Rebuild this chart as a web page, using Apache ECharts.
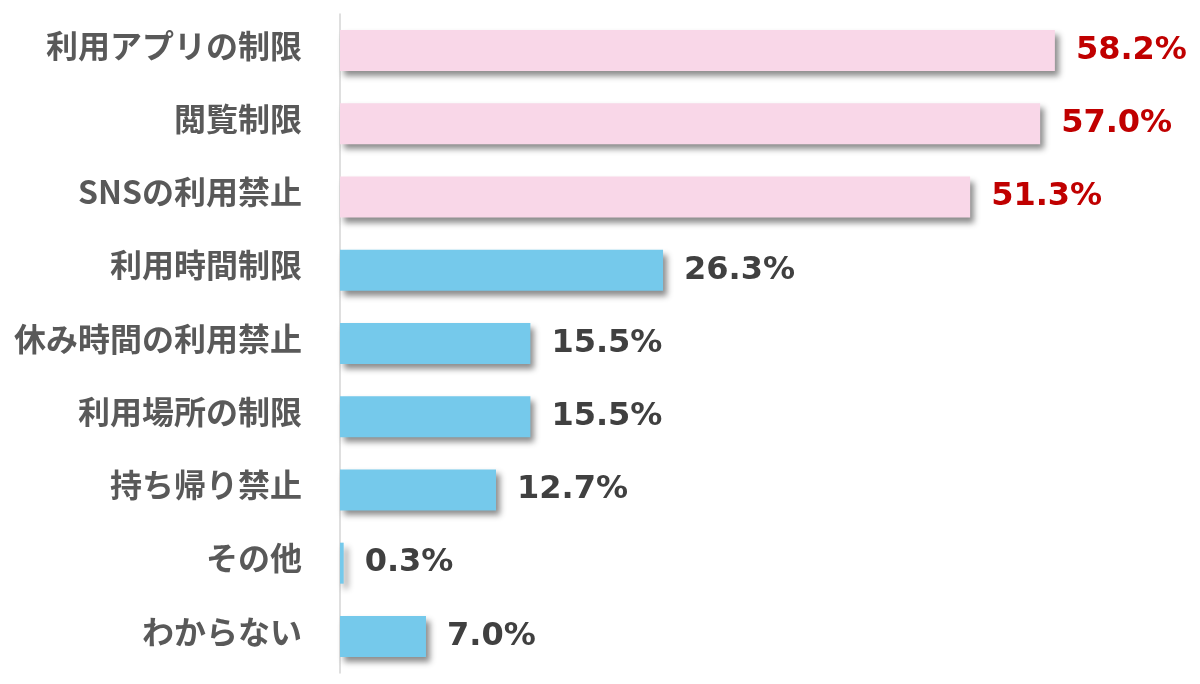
<!DOCTYPE html>
<html>
<head>
<meta charset="utf-8">
<script src="https://cdn.jsdelivr.net/npm/echarts@6/dist/echarts.min.js"></script>
<style>html,body{margin:0;padding:0;background:#fff;}#c{width:1200px;height:684px;}</style>
</head>
<body>
<div id="c"></div>
<script>
const categories = ['利用アプリの制限','閲覧制限','SNSの利用禁止','利用時間制限','休み時間の利用禁止','利用場所の制限','持ち帰り禁止','その他','わからない'];
const values = [58.2, 57.0, 51.3, 26.3, 15.5, 15.5, 12.7, 0.3, 7.0];
const highlighted = ['利用アプリの制限','閲覧制限','SNSの利用禁止'];

const chart = echarts.init(document.getElementById('c'));
const data = values.map((v, i) => {
  const hi = highlighted.includes(categories[i]);
  return {
    value: v,
    itemStyle: { color: hi ? '#F9D7E8' : '#75C9EB' },
    label: { color: hi ? '#C00000' : '#404040' }
  };
});
const catFont = { fontSize: 32, fontWeight: 'bold', color: '#595959', fontFamily: '"Noto Sans CJK JP", sans-serif' };
chart.setOption({
  animation: false,
  grid: { left: 340, right: 123, top: 14, bottom: 11, containLabel: false },
  xAxis: { type: 'value', min: 0, max: 60, show: false, splitLine: { show: false } },
  yAxis: {
    type: 'category', data: categories, inverse: true,
    axisLine: { show: true, lineStyle: { color: '#d4d4d4', width: 1.5 } },
    axisTick: { show: false },
    axisLabel: Object.assign({
      margin: 38,
      formatter: v => '{c|' + v + '}',
      rich: { c: Object.assign({ padding: [0, 0, 10, 0] }, catFont) }
    }, catFont)
  },
  series: [{
    type: 'bar', data: data, barWidth: '56%',
    itemStyle: { shadowColor: 'rgba(0,0,0,0.45)', shadowBlur: 6, shadowOffsetX: 4, shadowOffsetY: 5 },
    label: {
      show: true, position: 'right', distance: 21,
      fontSize: 32, fontWeight: 'bold', fontFamily: '"DejaVu Sans", Verdana, sans-serif',
      formatter: p => p.value.toFixed(1) + '%'
    }
  }]
});
</script>
</body>
</html>
